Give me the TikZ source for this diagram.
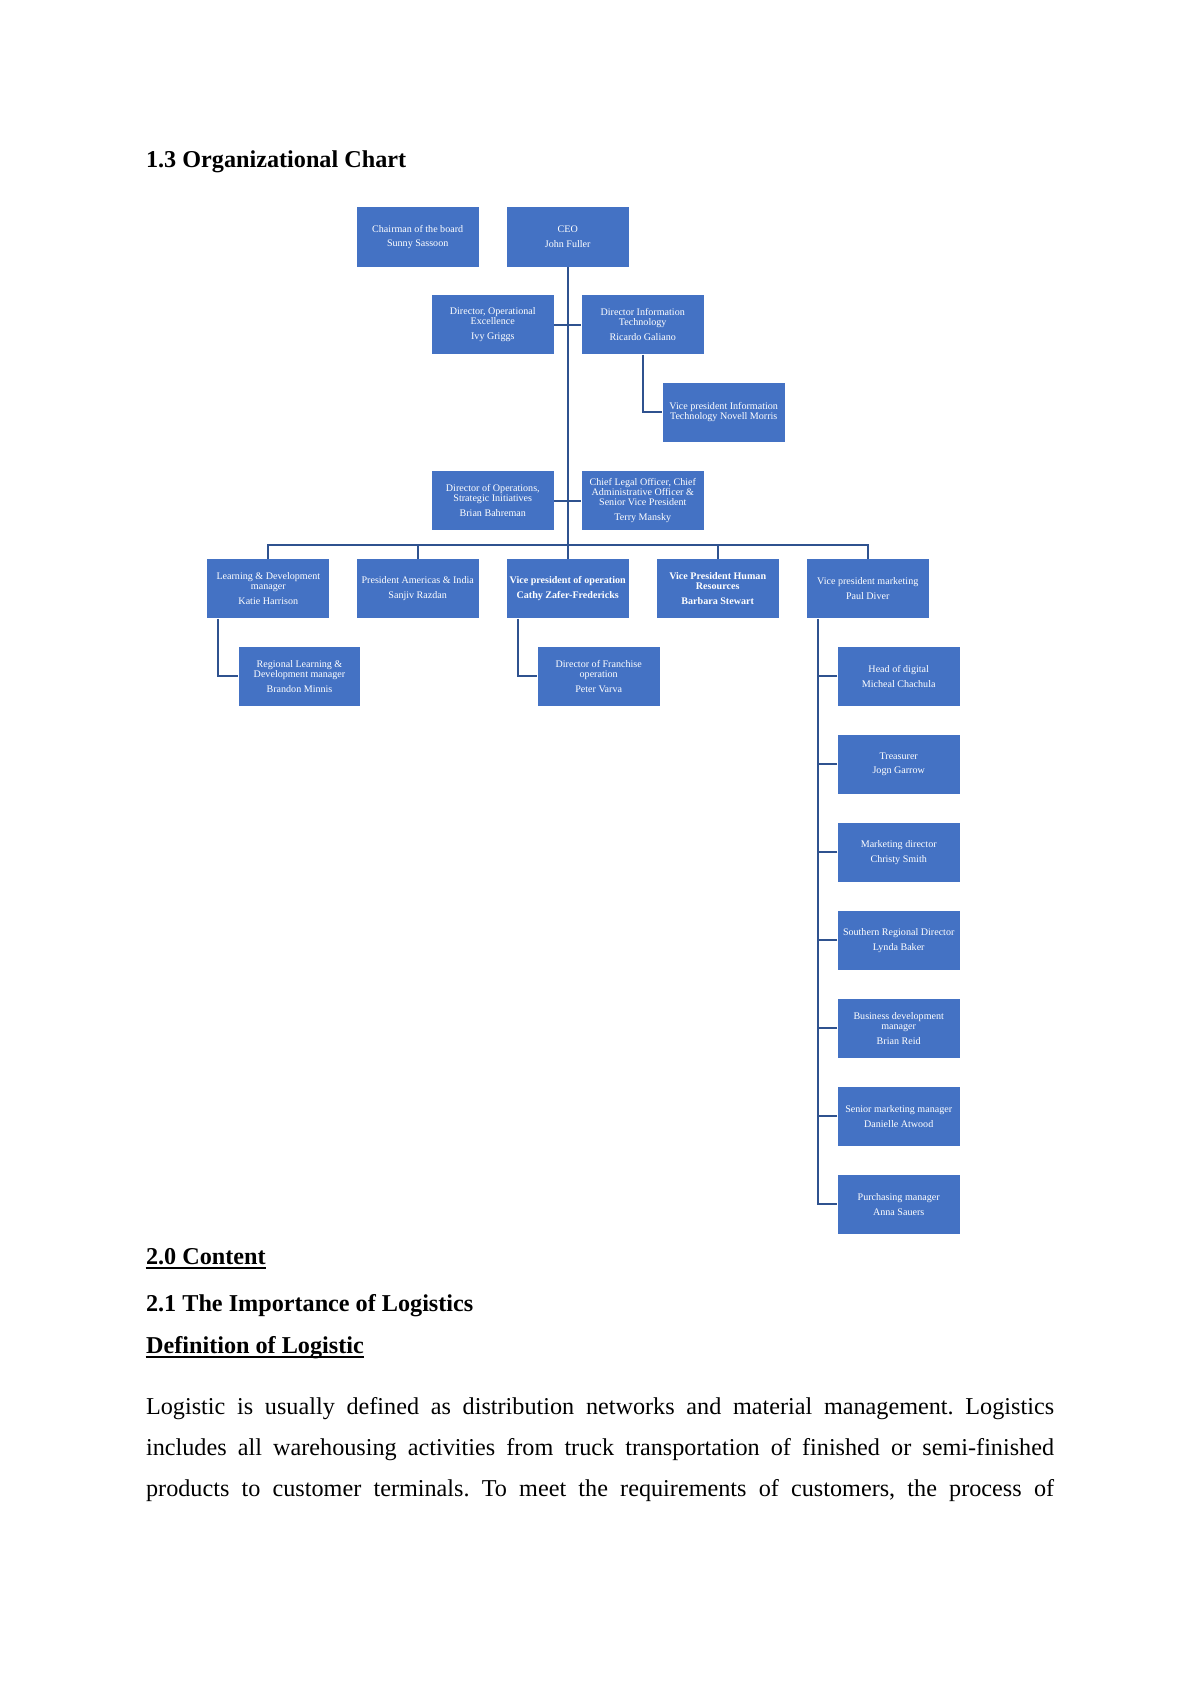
\documentclass[tikz,border=0pt]{standalone}
\usepackage{fontspec}
\setmainfont{Liberation Serif}
\usetikzlibrary{calc}
\definecolor{boxblue}{HTML}{4472C4}
\definecolor{lineblue}{HTML}{2F528F}
\frenchspacing
\begin{document}
\begin{tikzpicture}[x=0.49607pt,y=-0.49607pt,
  orgbox/.style={fill=boxblue, text=white, minimum width=60.5pt, minimum height=29.4pt,
    inner sep=0pt, align=center, font=\fontsize{5pt}{5pt}\selectfont},
  link/.style={draw=lineblue, line width=1.1pt},
  heading/.style={anchor=base west, inner sep=0pt, font=\bfseries\fontsize{12pt}{14pt}\selectfont},
  bodyline/.style={anchor=base west, inner sep=0pt, font=\fontsize{12pt}{14pt}\selectfont},
  uline/.style={line width=1.3pt}]
\useasboundingbox[fill=white] (0,0) rectangle (1200,1697);

% heading
\node[heading] (h13) at (145.7,167.3) {1.3 Organizational Chart};

% top level
\node[orgbox] (chair) at (417.7,237) {Chairman of the board\\[2.3pt]Sunny Sassoon};
\node[orgbox] (ceo) at (567.7,237) {CEO\\[2.3pt]John Fuller};

\node[orgbox] (dox) at (492.8,324.7) {Director, Operational\\Excellence\\[2.3pt]Ivy Griggs};
\node[orgbox] (dit) at (642.7,324.7) {Director Information\\Technology\\[2.3pt]Ricardo Galiano};
\node[orgbox] (vpit) at (723.7,412.3) {Vice president Information\\Technology Novell Morris};

\node[orgbox] (dops) at (492.8,500.7) {Director of Operations,\\Strategic Initiatives\\[2.3pt]Brian Bahreman};
\node[orgbox] (clo) at (642.8,500.7) {Chief Legal Officer, Chief\\Administrative Officer \&\\Senior Vice President\\[2.3pt]Terry Mansky};

% VP row
\node[orgbox] (lrn) at (268.3,588.7) {Learning \& Development\\manager\\[2.3pt]Katie Harrison};
\node[orgbox] (pres) at (417.7,588.7) {President Americas \& India\\[2.3pt]Sanjiv Razdan};
\node[orgbox] (vpop) at (567.7,588.7) {\bfseries Vice president of operation\\[2.3pt]\bfseries Cathy Zafer-Fredericks};
\node[orgbox] (vphr) at (717.7,588.7) {\bfseries Vice President Human\\\bfseries Resources\\[2.3pt]\bfseries Barbara Stewart};
\node[orgbox] (vpm) at (867.7,588.7) {Vice president marketing\\[2.3pt]Paul Diver};

% children
\node[orgbox] (reg) at (299.5,676.3) {Regional Learning \&\\Development manager\\[2.3pt]Brandon Minnis};
\node[orgbox] (fra) at (598.7,676.3) {Director of Franchise\\operation\\[2.3pt]Peter Varva};

\node[orgbox] (m1) at (898.7,676.3) {Head of digital\\[2.3pt]Micheal Chachula};
\node[orgbox] (m2) at (898.7,764.3) {Treasurer\\[2.3pt]Jogn Garrow};
\node[orgbox] (m3) at (898.7,852.3) {Marketing director\\[2.3pt]Christy Smith};
\node[orgbox] (m4) at (898.7,940.3) {Southern Regional Director\\[2.3pt]Lynda Baker};
\node[orgbox] (m5) at (898.7,1028.3) {Business development\\manager\\[2.3pt]Brian Reid};
\node[orgbox] (m6) at (898.7,1116.3) {Senior marketing manager\\[2.3pt]Danielle Atwood};
\node[orgbox] (m7) at (898.7,1204.3) {Purchasing manager\\[2.3pt]Anna Sauers};

% connectors
\draw[link] (ceo.south) -- (vpop.north);
\draw[link] (dox.east) -- (dit.west);
\draw[link] (dops.east) -- (clo.west);
\draw[link] (dit.south) |- (vpit.west);
\draw[link] (lrn.north) -- ++(0,-14) -| (vpm.north);
\draw[link] (pres.north) -- ++(0,-14);
\draw[link] (vphr.north) -- ++(0,-14);
\draw[link] ($(lrn.south west)+(11,0)$) |- (reg.west);
\draw[link] ($(vpop.south west)+(11.6,0)$) |- (fra.west);
\draw[link] ($(vpm.south west)+(11.6,0)$) |- (m7.west);
\foreach \k in {1,...,6} {\draw[link] (m\k.west) -- ++(-19.4,0);}

% text below
\node[heading] (h20) at (145.7,1264.3) {2.0 Content};
\draw[uline] ($(h20.base west)+(0,3.6)$) -- ($(h20.base east)+(0,3.6)$);
\node[heading] (h21) at (145.7,1311) {2.1 The Importance of Logistics};
\node[heading] (hdef) at (145.7,1353.3) {Definition of Logistic};
\draw[uline] ($(hdef.base west)+(0,3.6)$) -- ($(hdef.base east)+(0,3.6)$);

\node[bodyline] (p1) at (145.7,1414.3) {\makebox[450.4pt][s]{Logistic is usually defined as distribution networks and material management. Logistics}};
\node[bodyline] (p2) at (145.7,1455.7) {\makebox[450.4pt][s]{includes all warehousing activities from truck transportation of finished or semi-finished}};
\node[bodyline] (p3) at (145.7,1496.7) {\makebox[450.4pt][s]{products to customer terminals. To meet the requirements of customers, the process of}};
\end{tikzpicture}
\end{document}
